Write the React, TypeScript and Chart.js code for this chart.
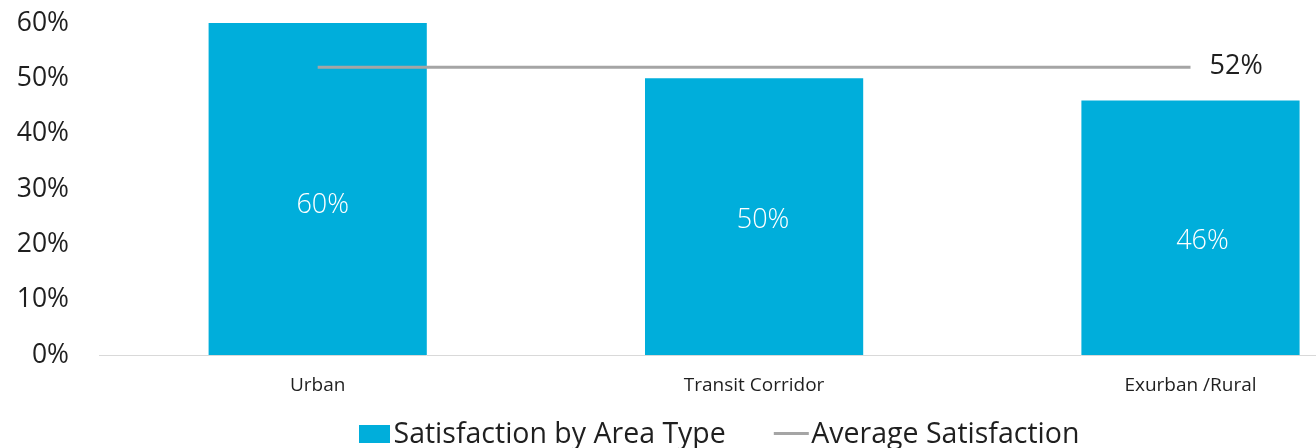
import React, { useEffect, useRef } from "react";
import { Chart, registerables } from "chart.js";

Chart.register(...registerables);

const categories = ["Urban", "Transit Corridor", "Exurban /Rural"];
const satisfactionValues = [60, 50, 46];
const averageValues = [52, 52, 52];
const yTickValues = [0, 10, 20, 30, 40, 50, 60];
const seriesNames = ["Satisfaction by Area Type", "Average Satisfaction"];

const BAR_COLOR = "#00AEDB";
const LINE_COLOR = "#A5A5A5";
const TEXT_COLOR = "#1f1f1f";
const FONT = "'Open Sans', 'DejaVu Sans', sans-serif";

const labelPlugin = {
  id: "valueLabels",
  afterDatasetsDraw(chart: any) {
    const ctx = chart.ctx;
    ctx.save();
    const offsets = [
      [5, 16],
      [9, 4],
      [12, 14],
    ];
    const barMeta = chart.getDatasetMeta(1);
    ctx.font = `300 27px ${FONT}`;
    ctx.fillStyle = "#ffffff";
    ctx.textAlign = "center";
    ctx.textBaseline = "middle";
    barMeta.data.forEach((bar: any, i: number) => {
      const v = chart.data.datasets[1].data[i];
      const o = offsets[i] || [0, 0];
      ctx.fillText(`${v}%`, bar.x + o[0], (bar.y + bar.base) / 2 + o[1]);
    });
    const lineMeta = chart.getDatasetMeta(0);
    const last = lineMeta.data[lineMeta.data.length - 1];
    const lv = chart.data.datasets[0].data[lineMeta.data.length - 1];
    ctx.font = `400 27px ${FONT}`;
    ctx.fillStyle = TEXT_COLOR;
    ctx.textAlign = "left";
    ctx.textBaseline = "middle";
    ctx.fillText(`${lv}%`, last.x + 19, last.y - 1);
    ctx.restore();
  },
};

const legendPlugin = {
  id: "customLegend",
  afterDraw(chart: any) {
    const ctx = chart.ctx;
    ctx.save();
    ctx.font = `400 28.5px ${FONT}`;
    ctx.fillStyle = TEXT_COLOR;
    ctx.textBaseline = "alphabetic";
    ctx.textAlign = "left";
    const baseline = 443;
    let x = 359;
    // bar entry
    ctx.fillStyle = BAR_COLOR;
    ctx.fillRect(x, 425, 31, 18);
    x += 31 + 3.5;
    ctx.fillStyle = TEXT_COLOR;
    ctx.fillText(seriesNames[0], x, baseline);
    x += ctx.measureText(seriesNames[0]).width + 48;
    // line entry
    ctx.strokeStyle = LINE_COLOR;
    ctx.lineWidth = 3;
    ctx.beginPath();
    ctx.moveTo(x, 433.5);
    ctx.lineTo(x + 35, 433.5);
    ctx.stroke();
    x += 35 + 2.5;
    ctx.fillText(seriesNames[1], x, baseline);
    ctx.restore();
  },
};

export default function App() {
  const canvasRef = useRef<HTMLCanvasElement | null>(null);

  useEffect(() => {
    if (!canvasRef.current) return;
    const chart = new Chart(canvasRef.current, {
      type: "bar",
      data: {
        labels: categories,
        datasets: [
          {
            type: "line",
            label: seriesNames[1],
            data: averageValues,
            borderColor: LINE_COLOR,
            backgroundColor: LINE_COLOR,
            borderWidth: 3,
            pointRadius: 0,
            order: 0,
          } as any,
          {
            type: "bar",
            label: seriesNames[0],
            data: satisfactionValues,
            backgroundColor: BAR_COLOR,
            borderWidth: 0,
            categoryPercentage: 1,
            barPercentage: 0.5,
            order: 1,
          },
        ],
      },
      options: {
        responsive: false,
        animation: false,
        devicePixelRatio: 1,
        layout: { padding: { left: 0, right: 11.3, top: 0, bottom: 34 } },
        plugins: {
          legend: { display: false },
          tooltip: { enabled: false },
        },
        scales: {
          x: {
            grid: { display: false, drawTicks: false },
            border: { display: true, color: "#D9D9D9", width: 1 },
            ticks: {
              color: TEXT_COLOR,
              font: { family: FONT, size: 19 },
              padding: 19,
              maxRotation: 0,
            },
            afterFit(scale: any) {
              scale.height = 59;
            },
          },
          y: {
            min: 0,
            max: 60,
            grid: { display: false, drawTicks: false },
            border: { display: false },
            afterBuildTicks(scale: any) {
              scale.ticks = yTickValues.map((v) => ({ value: v }));
            },
            ticks: {
              color: TEXT_COLOR,
              font: { family: FONT, size: 26.5 },
              padding: 30.5,
              callback: (v: any) => `${v}%`,
            },
            afterFit(scale: any) {
              scale.width = 99.5;
              scale.paddingTop = 23;
            },
          },
        },
      },
      plugins: [labelPlugin, legendPlugin],
    });
    return () => chart.destroy();
  }, []);

  return (
    <div
      style={{
        position: "absolute",
        left: 0,
        top: 0,
        width: 1316,
        height: 448,
        overflow: "hidden",
        background: "#ffffff",
      }}
    >
      <canvas ref={canvasRef} width={1420} height={448} style={{ display: "block" }} />
    </div>
  );
}
